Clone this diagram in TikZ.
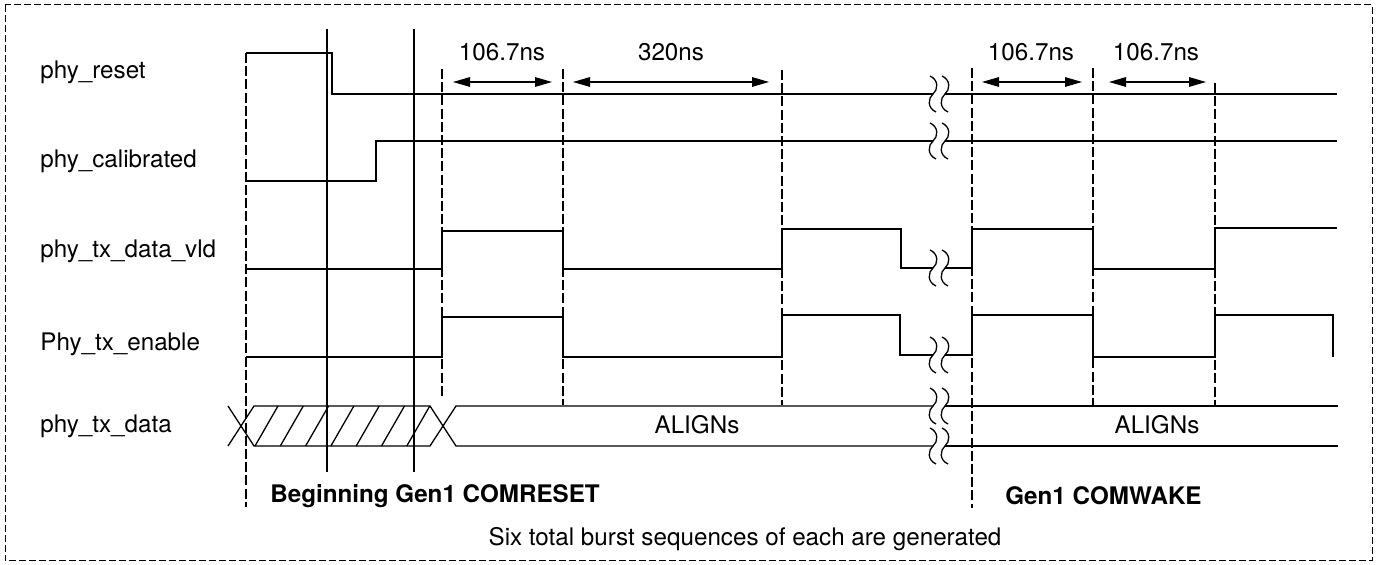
\documentclass[tikz,border=0pt]{standalone}
\usepackage{fontspec}
\setmainfont{TeX Gyre Heros}
\usetikzlibrary{arrows.meta}
\newcommand{\wavebreak}[2]{%
  \foreach \dx in {0,12}{%
    \draw[sig] ({#1+\dx-3},{#2-18}) .. controls ({#1+\dx+6},{#2-14}) and ({#1+\dx+5},{#2-4}) .. ({#1+\dx},{#2})
      .. controls ({#1+\dx-5},{#2+4}) and ({#1+\dx-6},{#2+14}) .. ({#1+\dx+3},{#2+18});
  }}
\begin{document}
\begin{tikzpicture}[x=0.5pt,y=-0.5pt,
  sig/.style={line width=0.65pt, line join=miter},
  guide/.style={line width=1.45pt, dash pattern=on 5pt off 1.6pt},
  marker/.style={line width=0.55pt},
  dim/.style={line width=0.55pt, {Triangle[length=8.5pt,width=4.8pt]}-{Triangle[length=8.5pt,width=4.8pt]}},
  lbl/.style={inner sep=0pt, anchor=base west, font=\fontsize{12.1}{14}\selectfont},
  clbl/.style={inner sep=0pt, anchor=base, font=\fontsize{12.1}{14}\selectfont},
  blbl/.style={inner sep=0pt, anchor=base west, font=\fontsize{12.1}{14}\selectfont\bfseries},
  frame/.style={line width=0.5pt, dash pattern=on 3.5pt off 1.5pt}
]
\path[fill=white] (0,0) rectangle (1377,565);
\useasboundingbox (0,0) rectangle (1377,565);
\draw[frame] (5,5) rectangle (1372,561);

% signal names
\node[lbl] (nreset) at (40,79) {phy\_reset};
\node[lbl] (ncal) at (40,168) {phy\_calibrated};
\node[lbl] (nvld) at (40,258) {phy\_tx\_data\_vld};
\node[lbl] (nen) at (40,351) {Phy\_tx\_enable};
\node[lbl] (ndata) at (40,433) {phy\_tx\_data};

% solid marker lines
\draw[marker] (327,29) -- (327,472);
\draw[marker] (414,29) -- (414,472);

% phy_reset
\draw[sig] (246,53) -- (332,53) -- (332,94) -- (933,94);
\draw[sig] (945,94) -- (1337,94);
\wavebreak{933}{94}
% phy_calibrated
\draw[sig] (246,181) -- (376,181) -- (376,141) -- (933,141);
\draw[sig] (945,141) -- (1337,141);
\wavebreak{933}{141}
% phy_tx_data_vld
\draw[sig] (246,269) -- (442,269) -- (442,231) -- (563,231) -- (563,269) -- (782,269) -- (782,229) -- (901,229) -- (901,268) -- (933,268);
\draw[sig] (945,268) -- (972,268) -- (972,229) -- (1093,229) -- (1093,269) -- (1215,269) -- (1215,228) -- (1337,228);
\wavebreak{933}{268}
% Phy_tx_enable
\draw[sig] (246,357) -- (442,357) -- (442,317) -- (563,317) -- (563,357) -- (782,357) -- (782,315) -- (900,315) -- (900,355) -- (933,355);
\draw[sig] (945,355) -- (972,355) -- (972,315) -- (1093,315) -- (1093,357) -- (1215,357) -- (1215,315) -- (1333,315) -- (1333,357);
\wavebreak{933}{355}
% phy_tx_data bus
\draw[sig] (228,406) -- (254,446) -- (430,446) -- (456,406) -- (933,406);
\draw[sig] (228,446) -- (254,406) -- (430,406) -- (456,446) -- (933,446);
\foreach \k in {0,...,6}{
  \draw[sig] ({255+25.3*\k},446) -- ({278+25.3*\k},406);
}
\draw[sig] (945,406) -- (1338,406);
\draw[sig] (945,446) -- (1338,446);
\wavebreak{933}{406}
\wavebreak{933}{446}

% dashed guide lines
\draw[guide] (246,53) -- (246,507);
\draw[guide] (442,69) -- (442,398);
\draw[guide] (563,69) -- (563,405);
\draw[guide] (782,70) -- (782,405);
\draw[guide] (972,68) -- (972,508);
\draw[guide] (1093,68) -- (1093,405);
\draw[guide] (1215,83) -- (1215,405);

% dimension arrows
\coordinate (a1) at (453,82); \coordinate (b1) at (552,82);
\coordinate (a2) at (573,82); \coordinate (b2) at (769,82);
\coordinate (a3) at (982,82); \coordinate (b3) at (1082,82);
\coordinate (a4) at (1109,82); \coordinate (b4) at (1206,82);
\draw[dim] (a1) -- (b1);
\draw[dim] (a2) -- (b2);
\draw[dim] (a3) -- (b3);
\draw[dim] (a4) -- (b4);
\node[clbl] (t1) at (502,61) {106.7ns};
\node[clbl] (t2) at (671,61) {320ns};
\node[clbl] (t3) at (1031,61) {106.7ns};
\node[clbl] (t4) at (1156,61) {106.7ns};

% bus labels
\node[clbl] (al1) at (697,434) {ALIGNs};
\node[clbl] (al2) at (1157,434) {ALIGNs};

% bottom texts
\node[blbl] (comreset) at (270,503) {Beginning Gen1 COMRESET};
\node[blbl] (comwake) at (1005,505) {Gen1 COMWAKE};
\node[clbl] (note) at (745,546) {Six total burst sequences of each are generated};
\end{tikzpicture}
\end{document}
